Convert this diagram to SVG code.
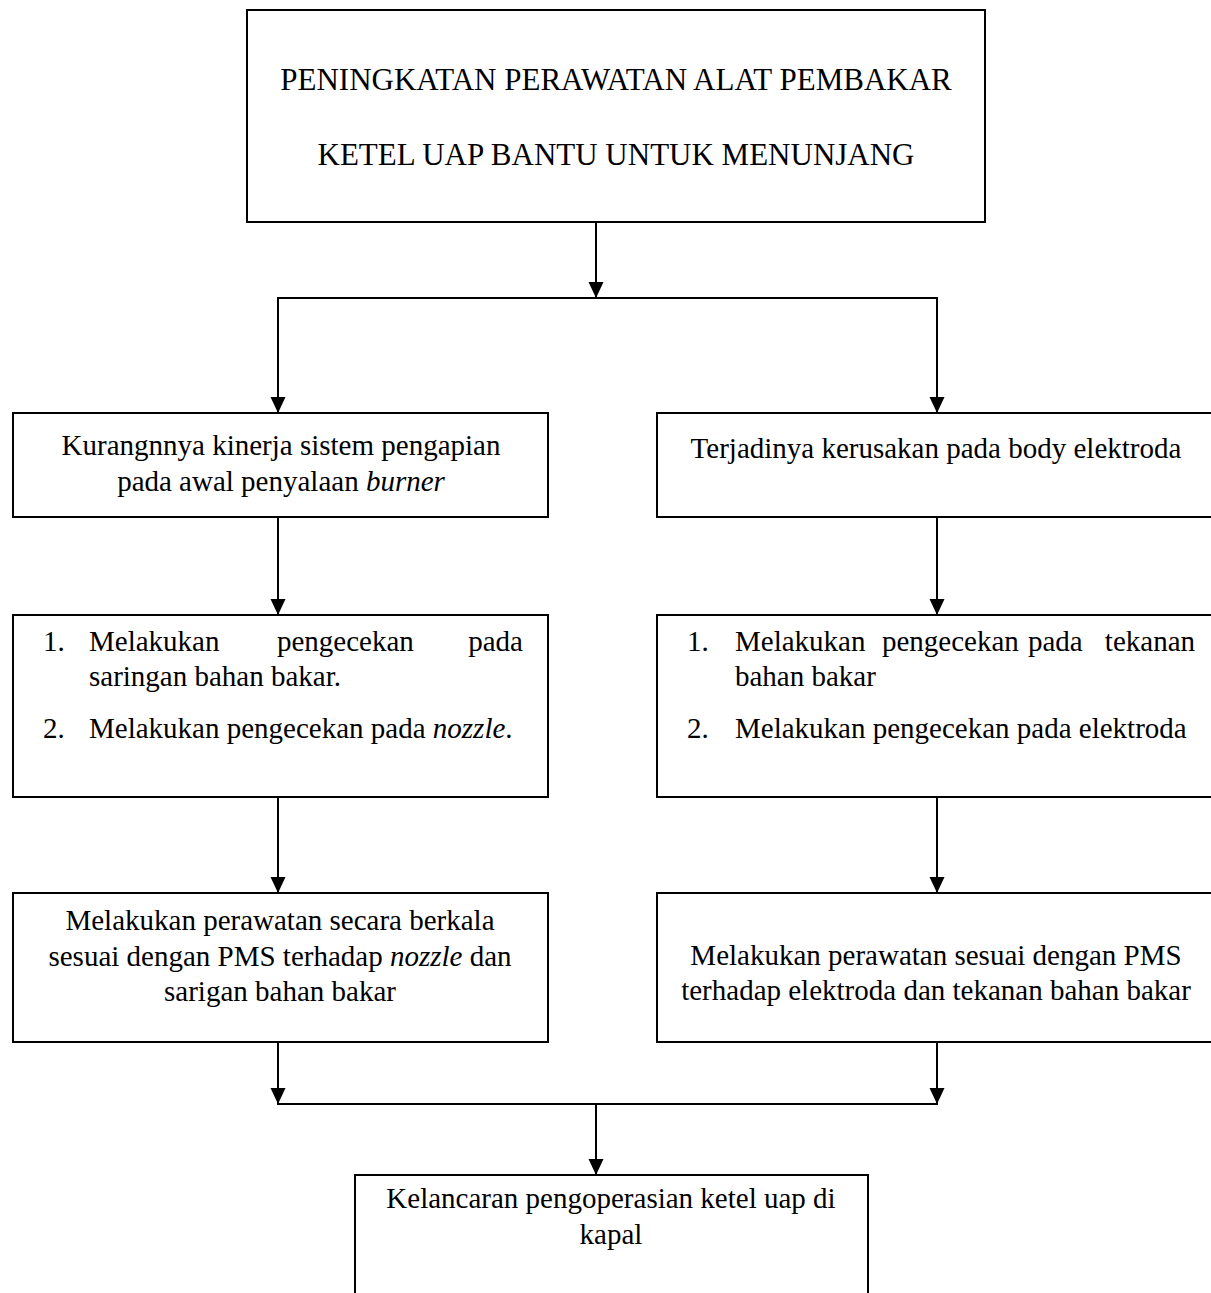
<svg xmlns="http://www.w3.org/2000/svg" width="1211" height="1293" viewBox="0 0 1211 1293">
<defs>
<marker id="ah" markerWidth="16" markerHeight="16" viewBox="0 0 16 16" refX="16" refY="8" orient="auto" markerUnits="userSpaceOnUse">
<path d="M0,0.5 L16,8 L0,15.5 Z" fill="#000"/>
</marker>
<style>
.box{fill:#fff;stroke:#000;stroke-width:2}
.t{font-family:"Liberation Serif","Times New Roman",serif;font-size:29px;fill:#000}
.ttl{font-family:"Liberation Serif","Times New Roman",serif;font-size:31px;fill:#000}
.c{text-anchor:middle}
.e{text-anchor:end}
.i{font-style:italic}
.ln{fill:none;stroke:#000;stroke-width:2}
</style>
</defs>
<rect width="1211" height="1293" fill="#fff"/>
<g id="connectors">
<line class="ln" x1="596" y1="222" x2="596" y2="298" marker-end="url(#ah)"/>
<line class="ln" x1="277" y1="298" x2="938" y2="298"/>
<line class="ln" x1="278" y1="298" x2="278" y2="413" marker-end="url(#ah)"/>
<line class="ln" x1="937" y1="298" x2="937" y2="413" marker-end="url(#ah)"/>
<line class="ln" x1="278" y1="517" x2="278" y2="615" marker-end="url(#ah)"/>
<line class="ln" x1="937" y1="517" x2="937" y2="615" marker-end="url(#ah)"/>
<line class="ln" x1="278" y1="797" x2="278" y2="893" marker-end="url(#ah)"/>
<line class="ln" x1="937" y1="797" x2="937" y2="893" marker-end="url(#ah)"/>
<line class="ln" x1="278" y1="1042" x2="278" y2="1104" marker-end="url(#ah)"/>
<line class="ln" x1="937" y1="1042" x2="937" y2="1104" marker-end="url(#ah)"/>
<line class="ln" x1="277" y1="1104" x2="938" y2="1104"/>
<line class="ln" x1="596" y1="1104" x2="596" y2="1175" marker-end="url(#ah)"/>
</g>
<g id="n-title">
<rect class="box" x="247" y="10" width="738" height="212"/>
<text class="ttl c" x="616" y="90">PENINGKATAN PERAWATAN ALAT PEMBAKAR</text>
<text class="ttl c" x="616" y="165">KETEL UAP BANTU UNTUK MENUNJANG</text>
</g>
<g id="n-l1">
<rect class="box" x="13" y="413" width="535" height="104"/>
<text class="t c" x="281" y="455">Kurangnnya kinerja sistem pengapian</text>
<text class="t c" x="281" y="491">pada awal penyalaan <tspan class="i">burner</tspan></text>
</g>
<g id="n-r1">
<rect class="box" x="657" y="413" width="570" height="104"/>
<text class="t c" x="936" y="458">Terjadinya kerusakan pada body elektroda</text>
</g>
<g id="n-l2">
<rect class="box" x="13" y="615" width="535" height="182"/>
<text class="t" x="43" y="651">1.</text>
<text class="t" x="89" y="651">Melakukan</text>
<text class="t" x="277" y="651">pengecekan</text>
<text class="t e" x="523" y="651">pada</text>
<text class="t" x="89" y="686">saringan bahan bakar.</text>
<text class="t" x="43" y="738">2.</text>
<text class="t" x="89" y="738">Melakukan pengecekan pada <tspan class="i">nozzle</tspan>.</text>
</g>
<g id="n-r2">
<rect class="box" x="657" y="615" width="570" height="182"/>
<text class="t" x="687" y="651">1.</text>
<text class="t" x="735" y="651">Melakukan</text>
<text class="t" x="882" y="651">pengecekan</text>
<text class="t" x="1028" y="651">pada</text>
<text class="t e" x="1195" y="651">tekanan</text>
<text class="t" x="735" y="686">bahan bakar</text>
<text class="t" x="687" y="738">2.</text>
<text class="t" x="735" y="738">Melakukan pengecekan pada elektroda</text>
</g>
<g id="n-l3">
<rect class="box" x="13" y="893" width="535" height="149"/>
<text class="t c" x="280" y="930">Melakukan perawatan secara berkala</text>
<text class="t c" x="280" y="966">sesuai dengan PMS terhadap <tspan class="i">nozzle</tspan> dan</text>
<text class="t c" x="280" y="1001">sarigan bahan bakar</text>
</g>
<g id="n-r3">
<rect class="box" x="657" y="893" width="570" height="149"/>
<text class="t c" x="936" y="965">Melakukan perawatan sesuai dengan PMS</text>
<text class="t c" x="936" y="1000">terhadap elektroda dan tekanan bahan bakar</text>
</g>
<g id="n-bottom">
<rect class="box" x="355" y="1175" width="513" height="200"/>
<text class="t c" x="611" y="1208">Kelancaran pengoperasian ketel uap di</text>
<text class="t c" x="611" y="1244">kapal</text>
</g>
</svg>
